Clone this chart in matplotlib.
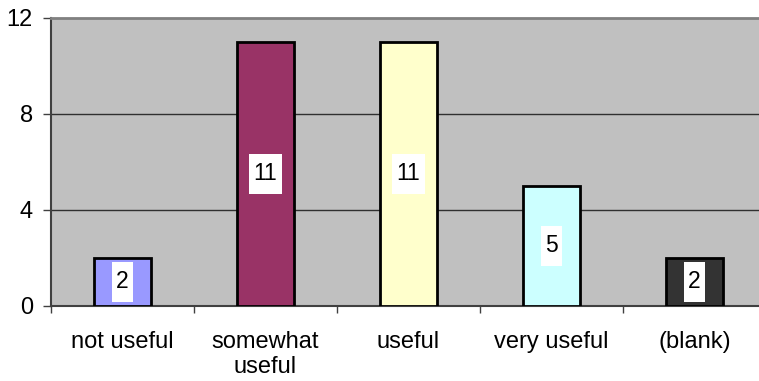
import numpy as np
import matplotlib
matplotlib.use("Agg")
import matplotlib.pyplot as plt
from matplotlib.path import Path

categories = ["not useful", "somewhat\nuseful", "useful", "very useful", "(blank)"]
counts = [2, 11, 11, 5, 2]
bar_colors = ["#9999FF", "#993366", "#FFFFCC", "#CCFFFF", "#333333"]
y_ticks = [0, 4, 8, 12]

plt.rcParams["font.family"] = ["Liberation Sans", "DejaVu Sans"]

W, H = 759, 381
fig = plt.figure(figsize=(W / 100, H / 100), dpi=100)
fig.patch.set_facecolor("white")

# plot area runs past the right edge of the picture, as in the original
left, top, bottom = 51, 18, 306
plot_w = 715
ax = fig.add_axes([left / W, 1 - bottom / H, plot_w / W, (bottom - top) / H])
ax.set_facecolor("#C0C0C0")

x = np.arange(len(categories))
ax.bar(x, counts, width=0.4, color=bar_colors, edgecolor="black",
       linewidth=2, zorder=3)


def label_box(x0, y0, width, height, mutation_size):
    # narrow but tall white box, like the excel data labels
    padx = 4.5
    box_h = 40
    cy = y0 + height / 2
    xa, xb = x0 - padx, x0 + width + padx
    ya, yb = cy - box_h / 2, cy + box_h / 2
    return Path([(xa, ya), (xb, ya), (xb, yb), (xa, yb), (xa, ya)], closed=True)


for xi, v in zip(x, counts):
    ax.text(xi, v / 2, str(v), ha="center", va="center", fontsize=16.5,
            color="black", zorder=4,
            bbox=dict(boxstyle=label_box, facecolor="white", edgecolor="none"))

ax.set_xlim(-0.5, len(categories) - 0.5)
ax.set_ylim(0, 12)
ax.set_yticks(y_ticks)
ax.set_yticklabels([str(t) for t in y_ticks], fontsize=17)
ax.tick_params(axis="y", length=6, width=1, color="#404040", pad=7)

ax.set_xticks(x)
ax.set_xticklabels(categories, fontsize=17, linespacing=1.2)
ax.tick_params(axis="x", which="major", length=0, pad=18)
ax.set_xticks(np.arange(-0.5, len(categories), 1.0), minor=True)
ax.tick_params(axis="x", which="minor", length=5, width=1, color="#404040")

for t in y_ticks[1:-1]:
    ax.axhline(t, color="#303030", linewidth=1, zorder=1)

ax.spines["left"].set_color("#404040")
ax.spines["left"].set_linewidth(1.5)
ax.spines["bottom"].set_color("#404040")
ax.spines["bottom"].set_linewidth(1.5)
ax.spines["top"].set_color("#808080")
ax.spines["top"].set_linewidth(2)
ax.spines["right"].set_color("#808080")

fig.savefig("out.png", dpi=100, facecolor="white")
